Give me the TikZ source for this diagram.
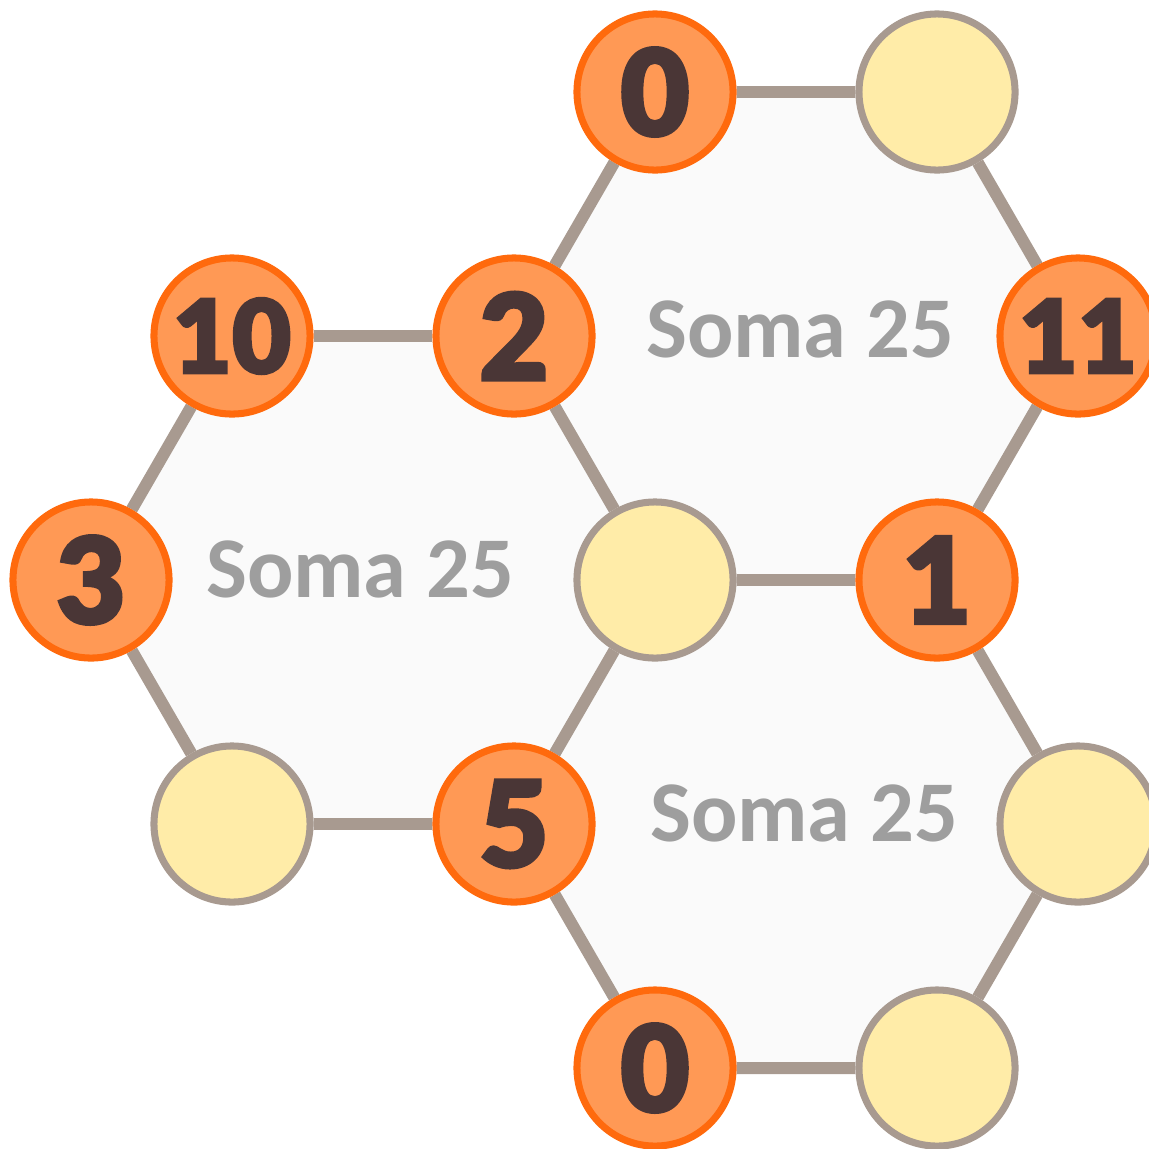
\documentclass[tikz,border=0pt]{standalone}
\usepackage{fontspec}
\setmainfont{Carlito}
\newfontfamily\numfont[FakeBold=2.5]{Lato Black}
\usepackage{xcolor}
\usetikzlibrary{backgrounds}

\definecolor{edgegray}{HTML}{A89A90}
\definecolor{orangefill}{HTML}{FF9955}
\definecolor{orangeline}{HTML}{FF6A0D}
\definecolor{yellowfill}{HTML}{FFECA8}
\definecolor{numbrown}{HTML}{4A3636}
\definecolor{somagray}{HTML}{9E9E9E}
\definecolor{hexfill}{HTML}{FAFAFA}

\tikzset{
  numnode/.style={circle,draw=orangeline,line width=2pt,fill=orangefill,
    minimum size=1.56cm,inner sep=0pt,text=numbrown,
    font=\numfont\fontsize{34pt}{34pt}\selectfont},
  numsmall/.style={numnode,font=\numfont\fontsize{29pt}{29pt}\selectfont},
  freenode/.style={circle,draw=edgegray,line width=2pt,fill=yellowfill,
    minimum size=1.56cm,inner sep=0pt},
  link/.style={draw=edgegray,line width=3.4pt},
  somalabel/.style={text=somagray,font=\bfseries\fontsize{24.6pt}{24.6pt}\selectfont,inner sep=0pt}
}

\begin{document}
\begin{tikzpicture}[x=0.01cm,y=-0.01cm]
    \useasboundingbox (0,0) rectangle (1149,1148);
    % vertices
    \node[numnode]  (top0)  at (655,92)   {0};
    \node[freenode] (topy)  at (937,92)   {};
    \node[numsmall] (n10)   at (232,336)  {10};
    \node[numnode]  (n2)    at (514,336)  {2};
    \node[numsmall] (n11)   at (1078,336) {11};
    \node[numnode]  (n3)    at (91,580)   {3};
    \node[freenode] (midy)  at (655,580)  {};
    \node[numnode]  (n1)    at (937,580)  {1};
    \node[freenode] (bly)   at (232,824)  {};
    \node[numnode]  (n5)    at (514,824)  {5};
    \node[freenode] (ry)    at (1078,824) {};
    \node[numnode]  (bot0)  at (655,1068) {0};
    \node[freenode] (bry)   at (937,1068) {};
    % sums
    \node[somalabel] (sumup)   at (800,329) {Soma 25};
    \node[somalabel] (sumleft) at (360,569) {Soma 25};
    \node[somalabel] (sumlow)  at (804,813) {Soma 25};
    \begin{scope}[on background layer]
        \fill[hexfill] (top0.center) -- (topy.center) -- (n11.center) -- (n1.center) -- (midy.center) -- (n2.center) -- cycle;
        \fill[hexfill] (n10.center) -- (n2.center) -- (midy.center) -- (n5.center) -- (bly.center) -- (n3.center) -- cycle;
        \fill[hexfill] (midy.center) -- (n1.center) -- (ry.center) -- (bry.center) -- (bot0.center) -- (n5.center) -- cycle;
        \draw[link] (top0) -- (topy) -- (n11) -- (n1) -- (midy) -- (n2) -- (top0);
        \draw[link] (n10) -- (n2);
        \draw[link] (n10) -- (n3) -- (bly) -- (n5) -- (midy);
        \draw[link] (n1) -- (ry) -- (bry) -- (bot0) -- (n5);
    \end{scope}
\end{tikzpicture}
\end{document}
